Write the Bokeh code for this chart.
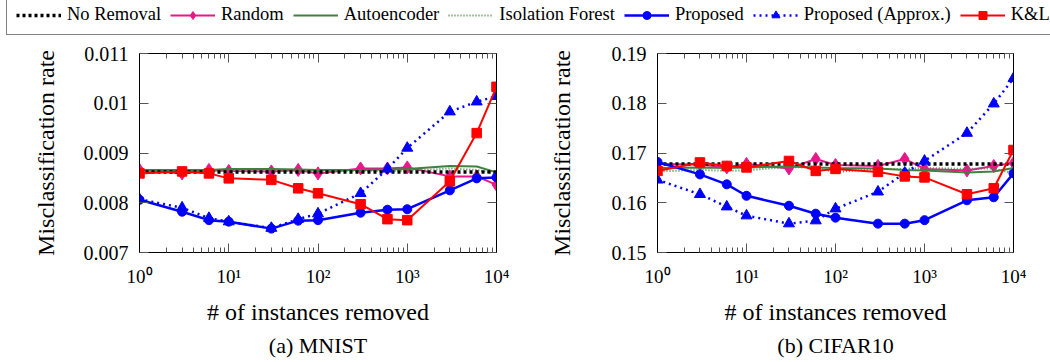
from bokeh.plotting import figure
from bokeh.models import FixedTicker, LogAxis, LinearAxis, Legend, LegendItem, Title, Range1d
from bokeh.layouts import column, row
from bokeh.embed import file_html
from bokeh.resources import INLINE

# ---------------- data ----------------
X_REMOVED = [1, 3, 6, 10, 30, 60, 100, 300, 600, 1000, 3000, 6000, 10000]

MNIST_NO_REMOVAL = [0.00862] * 13
MNIST_RANDOM = [0.00866, 0.00859, 0.00866, 0.00864, 0.00863, 0.00866, 0.00859, 0.00869, 0.00869, 0.00871, 0.00853, 0.00853, 0.00836]
MNIST_AUTOENCODER = [0.00866, 0.00866, 0.00866, 0.00868, 0.00868, 0.00867, 0.00866, 0.00866, 0.00867, 0.00868, 0.00874, 0.00873, 0.00861]
MNIST_ISOLATION = [0.00863, 0.00862, 0.00863, 0.00864, 0.00864, 0.00864, 0.00863, 0.00864, 0.00864, 0.00864, 0.00869, 0.00866, 0.00859]
MNIST_PROPOSED = [0.00806, 0.00782, 0.00765, 0.00762, 0.00748, 0.00764, 0.00765, 0.00780, 0.00786, 0.00787, 0.00825, 0.00849, 0.00851]
MNIST_APPROX = [0.00807, 0.00790, 0.00769, 0.00762, 0.00749, 0.00767, 0.00778, 0.00819, 0.00868, 0.00910, 0.00983, 0.01003, 0.01014]
MNIST_KL = [0.00859, 0.00863, 0.00859, 0.00849, 0.00846, 0.00829, 0.00819, 0.00797, 0.00767, 0.00765, 0.00843, 0.00940, 0.01033]

CIFAR_NO_REMOVAL = [0.1678] * 13
CIFAR_RANDOM = [0.1678, 0.1677, 0.1671, 0.1678, 0.1669, 0.1688, 0.1676, 0.1674, 0.1688, 0.1668, 0.1665, 0.1674, 0.1680]
CIFAR_AUTOENCODER = [0.1670, 0.1671, 0.1670, 0.1671, 0.1673, 0.1671, 0.1670, 0.1669, 0.1666, 0.1665, 0.1661, 0.1663, 0.1670]
CIFAR_ISOLATION = [0.1663, 0.1666, 0.1664, 0.1665, 0.1672, 0.1670, 0.1662, 0.1668, 0.1668, 0.1670, 0.1668, 0.1669, 0.1659]
CIFAR_PROPOSED = [0.1682, 0.1657, 0.1637, 0.1614, 0.1594, 0.1578, 0.1570, 0.1558, 0.1558, 0.1565, 0.1605, 0.1611, 0.1659]
CIFAR_APPROX = [0.1646, 0.1617, 0.1592, 0.1574, 0.1558, 0.1564, 0.1588, 0.1622, 0.1660, 0.1684, 0.1740, 0.1799, 0.1850]
CIFAR_KL = [0.1664, 0.1681, 0.1674, 0.1671, 0.1684, 0.1664, 0.1668, 0.1662, 0.1653, 0.1651, 0.1617, 0.1629, 0.1706]

SERIES_NAMES = ["No Removal", "Random", "Autoencoder", "Isolation Forest", "Proposed", "Proposed (Approx.)", "K&L"]
MNIST_SERIES = [MNIST_NO_REMOVAL, MNIST_RANDOM, MNIST_AUTOENCODER, MNIST_ISOLATION, MNIST_PROPOSED, MNIST_APPROX, MNIST_KL]
CIFAR_SERIES = [CIFAR_NO_REMOVAL, CIFAR_RANDOM, CIFAR_AUTOENCODER, CIFAR_ISOLATION, CIFAR_PROPOSED, CIFAR_APPROX, CIFAR_KL]

X_TICKS = [1, 10, 100, 1000, 10000]
X_TICK_LABELS = ["10\u2070", "10\u00b9", "10\u00b2", "10\u00b3", "10\u2074"]
MNIST_Y_TICKS = [0.007, 0.008, 0.009, 0.01, 0.011]
MNIST_Y_TICK_LABELS = ["0.007", "0.008", "0.009", "0.01", "0.011"]
CIFAR_Y_TICKS = [0.15, 0.16, 0.17, 0.18, 0.19]
CIFAR_Y_TICK_LABELS = ["0.15", "0.16", "0.17", "0.18", "0.19"]

Y_LABEL = "Misclassification rate"
X_LABEL = "# of instances removed"
SUBTITLES = ["(a) MNIST", "(b) CIFAR10"]

# ---------------- styles ----------------
FONT = "Liberation Serif"
PINK = "#e8178a"
GREEN = "#408040"
GREEN_IF = "#3d8c3d"
STYLES = {
    "No Removal": dict(color="black", width=3.5, dash="3 3", marker=None, size=0),
    "Random": dict(color=PINK, width=2, dash="solid", marker="diamond", size=13),
    "Autoencoder": dict(color=GREEN, width=2, dash="solid", marker=None, size=0),
    "Isolation Forest": dict(color=GREEN_IF, width=2, dash="1 2", marker=None, size=0),
    "Proposed": dict(color="#0000ff", width=2.5, dash="solid", marker="circle", size=9),
    "Proposed (Approx.)": dict(color="#0000ff", width=2.5, dash="2 4", marker="triangle", size=11),
    "K&L": dict(color="#ff0000", width=2, dash="solid", marker="square", size=9.5),
}
DRAW_ORDER = ["Random", "Autoencoder", "Isolation Forest", "No Removal", "Proposed", "Proposed (Approx.)", "K&L"]

X_MINOR = [m * 10 ** k for k in range(4) for m in range(2, 10)]

PANEL_H = 325
LEG_H = 37


def style_axis(ax, labels=True, size="19px"):
    ax.axis_line_color = "black"
    ax.axis_line_width = 1
    ax.major_tick_in = 9
    ax.major_tick_out = 0
    ax.minor_tick_in = 5
    ax.minor_tick_out = 0
    ax.major_tick_line_color = "#555555"
    ax.minor_tick_line_color = "#555555"
    ax.major_label_text_font = FONT
    ax.major_label_text_font_size = size
    if labels:
        ax.major_label_text_color = "black"
    else:
        ax.major_label_text_color = None
        ax.major_label_text_font_size = "2px"
        ax.major_label_standoff = 0


def make_panel(series, y_range, y_ticks, y_tick_labels, width, bl, br, ylab_standoff, subtitle):
    p = figure(width=width, height=PANEL_H, x_axis_type="log",
               x_range=Range1d(1, 10000), y_range=Range1d(*y_range),
               output_backend="svg", toolbar_location=None,
               min_border_left=bl, min_border_right=br,
               min_border_top=16, min_border_bottom=110)
    p.xgrid.visible = False
    p.ygrid.visible = False
    p.outline_line_color = "black"
    p.outline_line_width = 1
    p.background_fill_color = "white"
    p.border_fill_color = "white"

    xt = FixedTicker(ticks=X_TICKS, minor_ticks=X_MINOR)
    yt = FixedTicker(ticks=y_ticks, minor_ticks=[])

    xa = p.xaxis[0]
    xa.ticker = xt
    xa.major_label_overrides = dict(zip(X_TICKS, X_TICK_LABELS))
    style_axis(xa, size="19px")
    xa.major_label_standoff = 13
    xa.axis_label = X_LABEL
    xa.axis_label_text_font = FONT
    xa.axis_label_text_font_size = "24px"
    xa.axis_label_text_font_style = "normal"
    xa.axis_label_text_color = "black"
    xa.axis_label_standoff = 9

    ya = p.yaxis[0]
    ya.ticker = yt
    ya.major_label_overrides = dict(zip(y_ticks, y_tick_labels))
    style_axis(ya, size="20px")
    ya.major_label_standoff = 11
    ya.axis_label = Y_LABEL
    ya.axis_label_text_font = FONT
    ya.axis_label_text_font_size = "24px"
    ya.axis_label_text_font_style = "normal"
    ya.axis_label_text_color = "black"
    ya.axis_label_standoff = ylab_standoff

    top = LogAxis(ticker=xt)
    style_axis(top, labels=False)
    p.add_layout(top, "above")
    right = LinearAxis(ticker=yt)
    style_axis(right, labels=False)
    p.add_layout(right, "right")

    p.add_layout(Title(text=subtitle, align="center", text_font=FONT, text_font_size="22px",
                       text_font_style="normal", text_color="black", standoff=7), "below")

    data = dict(zip(SERIES_NAMES, series))
    for name in DRAW_ORDER:
        st = STYLES[name]
        p.line(X_REMOVED, data[name], line_color=st["color"], line_width=st["width"],
               line_dash=st["dash"])
        if st["marker"]:
            p.scatter(X_REMOVED, data[name], marker=st["marker"], size=st["size"],
                      fill_color=st["color"], line_color=st["color"], line_width=1)
    return p


pa = make_panel(MNIST_SERIES, (0.007, 0.011), MNIST_Y_TICKS, MNIST_Y_TICK_LABELS,
                520, 139, 24, 22, SUBTITLES[0])
pb = make_panel(CIFAR_SERIES, (0.15, 0.19), CIFAR_Y_TICKS, CIFAR_Y_TICK_LABELS,
                530, 137, 37, 34, SUBTITLES[1])

# ---------------- legend strip ----------------
# series are drawn here outside the visible range; only their legend samples show
leg = figure(width=1050, height=LEG_H, output_backend="svg", toolbar_location=None,
             min_border=0, x_range=Range1d(-2, -1), y_range=Range1d(-2, -1),
             x_axis_location=None, y_axis_location=None)
leg.grid.visible = False
leg.outline_line_color = None

items = []
for name, vals in zip(SERIES_NAMES, MNIST_SERIES):
    st = STYLES[name]
    rs = [leg.line(X_REMOVED, vals, line_color=st["color"], line_width=st["width"], line_dash=st["dash"])]
    if st["marker"]:
        rs.append(leg.scatter(X_REMOVED, vals, marker=st["marker"], size=st["size"],
                              fill_color=st["color"], line_color=st["color"]))
    items.append(LegendItem(label=name, renderers=rs))

# location = bottom-left corner of the legend box, measured from the frame's bottom-left
legend = Legend(items=items, orientation="horizontal", location=(6, 2),
                padding=9, spacing=9, label_standoff=6, glyph_width=45, glyph_height=20,
                label_height=20, margin=0,
                label_text_font=FONT, label_text_font_size="18.5px", label_text_color="black",
                border_line_color="black", border_line_width=1, background_fill_color="white")
leg.add_layout(legend)

root = column(leg, row(pa, pb))

open("out.html", "w").write(file_html(root, INLINE))
